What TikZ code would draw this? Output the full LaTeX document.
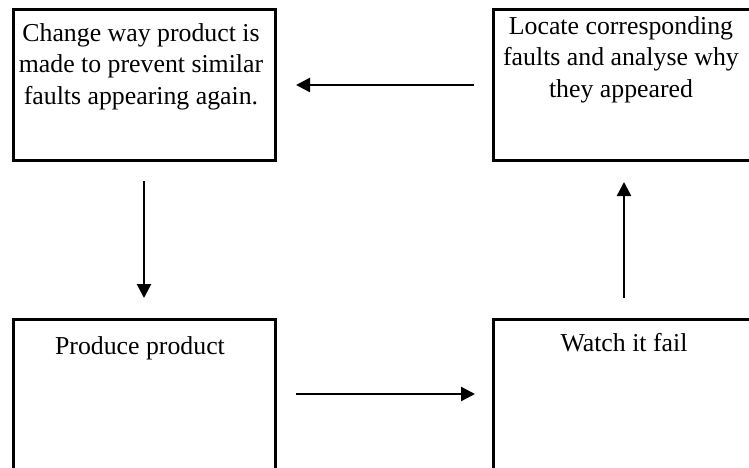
\documentclass[tikz,border=0pt]{standalone}
\usepackage{fontspec}
\setmainfont{Liberation Serif}
\usetikzlibrary{arrows.meta,calc}
\begin{document}
\begin{tikzpicture}[x=1pt,y=-1pt,
  box/.style={draw=black,line width=3pt,fill=white,minimum width=262pt,minimum height=150pt,inner sep=0pt,outer sep=0pt},
  lbl/.style={anchor=north,align=center,inner sep=0pt,font=\fontsize{25.8}{31.5}\selectfont},
  flow/.style={line width=2.4pt,-{Triangle[length=14pt,width=14pt]}}]
\useasboundingbox (0,0) rectangle (749,468);
\clip (0,0) rectangle (749,468);
\node[box] (tl) at (144,85) {};
\node[box] (tr) at (624,85) {};
\node[box] (bl) at (144,394) {};
\node[box] (br) at (624,394) {};
\node[lbl] (tlt) at ($(tl.north)+(-3,13)$) {Change way product is\\made to prevent similar\\faults appearing again.};
\node[lbl] (trt) at ($(tr.north)+(-3,6)$) {Locate corresponding\\faults and analyse why\\they appeared};
\node[lbl] (blt) at ($(bl.north)+(-4,17)$) {Produce product};
\node[lbl] (brt) at ($(br.north)+(0,14)$) {Watch it fail};
\draw[flow,shorten <=19pt,shorten >=21pt] (tr.west) -- (tl.east);
\draw[flow,shorten <=21pt,shorten >=21pt] (tl.south) -- (bl.north);
\draw[flow,shorten <=21pt,shorten >=18pt] (bl.east) -- (br.west);
\draw[flow,shorten <=21pt,shorten >=22pt] (br.north) -- (tr.south);
\end{tikzpicture}
\end{document}
